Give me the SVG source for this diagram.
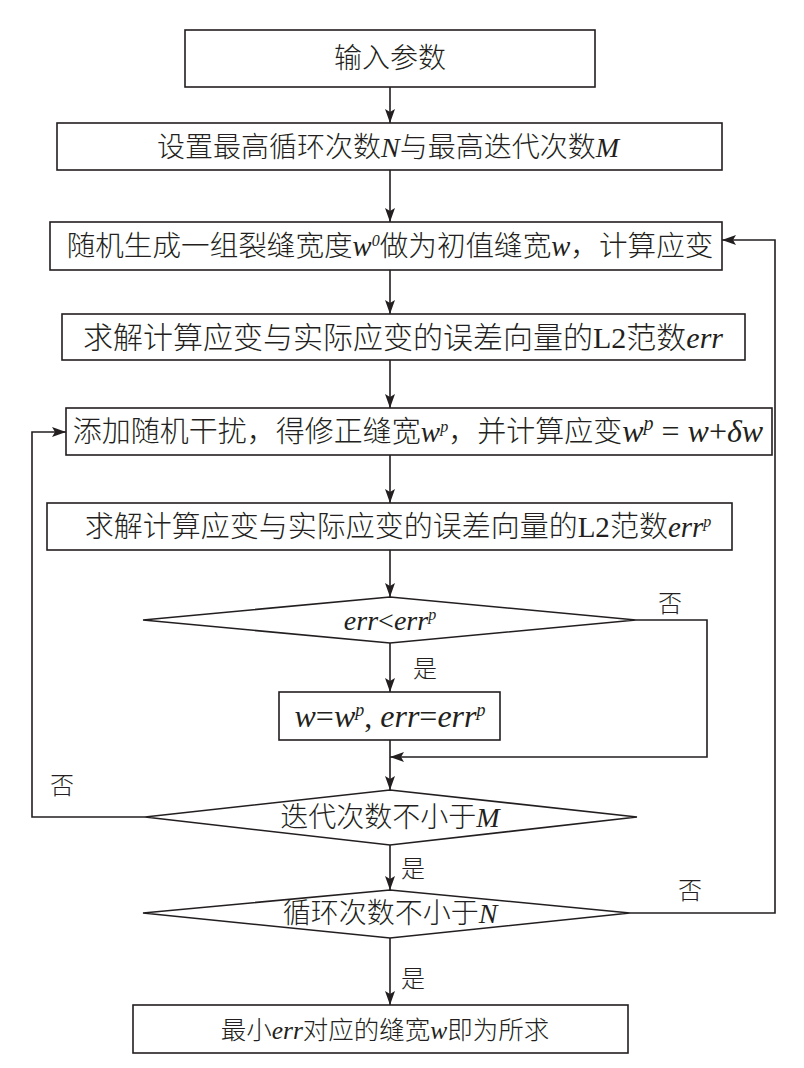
<svg xmlns="http://www.w3.org/2000/svg" width="804" height="1068" viewBox="0 0 804 1068">
<style>
.box{fill:#fff;stroke:#231f20;stroke-width:1.6}
.ln{fill:none;stroke:#231f20;stroke-width:1.6}
.t{font-family:"Noto Sans CJK SC",sans-serif;font-weight:300;font-size:28px;fill:#231f20;text-anchor:middle}
.i{font-family:"Liberation Serif",serif;font-style:italic}
.r{font-family:"Liberation Serif",serif}
.sup{font-size:16px}
.m{font-size:32px}
.lab{font-family:"Noto Sans CJK SC",sans-serif;font-weight:300;font-size:24px;fill:#231f20;text-anchor:middle}
</style>
<defs>
<marker id="a" viewBox="0 0 14 10" refX="14" refY="5" markerWidth="14" markerHeight="10" markerUnits="userSpaceOnUse" orient="auto"><path d="M0,0 L14,5 L0,10 L3,5 Z" fill="#231f20"/></marker>
</defs>
<rect width="804" height="1068" fill="#fff"/>
<g id="connectors">
<path class="ln" d="M390,87 V123" marker-end="url(#a)"/>
<path class="ln" d="M390,170 V222" marker-end="url(#a)"/>
<path class="ln" d="M390,270 V314" marker-end="url(#a)"/>
<path class="ln" d="M390,360 V408" marker-end="url(#a)"/>
<path class="ln" d="M390,455 V503" marker-end="url(#a)"/>
<path class="ln" d="M390,550 V597" marker-end="url(#a)"/>
<path class="ln" d="M390,643 V692" marker-end="url(#a)"/>
<path class="ln" d="M390,740 V790" marker-end="url(#a)"/>
<path class="ln" d="M636,620 H707 V757 H390" marker-end="url(#a)"/>
<path class="ln" d="M145,817 H32 V432 H66" marker-end="url(#a)"/>
<path class="ln" d="M390,845 V890" marker-end="url(#a)"/>
<path class="ln" d="M630,913 H775 V240 H722" marker-end="url(#a)"/>
<path class="ln" d="M390,938 V1005" marker-end="url(#a)"/>
<text class="lab" x="670" y="612">否</text>
<text class="lab" x="425" y="677">是</text>
<text class="lab" x="62" y="794">否</text>
<text class="lab" x="413" y="877">是</text>
<text class="lab" x="690" y="899">否</text>
<text class="lab" x="413" y="987">是</text>
</g>
<g id="n1"><rect class="box" x="185" y="30" width="410" height="57"/>
<text class="t" x="390" y="68">输入参数</text></g>
<g id="n2"><rect class="box" x="57" y="123" width="665" height="47"/>
<text class="t" x="388" y="157">设置最高循环次数<tspan class="i">N</tspan>与最高迭代次数<tspan class="i">M</tspan></text></g>
<g id="n3"><rect class="box" x="50" y="222" width="672" height="48"/>
<text class="t" x="390" y="256" style="font-size:28.6px">随机生成一组裂缝宽度<tspan class="i">w</tspan><tspan class="i sup" dy="-10">0</tspan><tspan dy="10">做为初值缝宽</tspan><tspan class="i">w</tspan>，计算应变</text></g>
<g id="n4"><rect class="box" x="62" y="314" width="683" height="46"/>
<text class="t" x="403" y="348" style="font-size:30px">求解计算应变与实际应变的误差向量的<tspan class="r">L2</tspan>范数<tspan class="i">err</tspan></text></g>
<g id="n5"><rect class="box" x="66" y="408" width="706" height="47"/>
<text class="t" x="418" y="442" style="font-size:29px">添加随机干扰，得修正缝宽<tspan class="i">w</tspan><tspan class="i sup" dy="-10">p</tspan><tspan dy="10">，并计算应变</tspan><tspan class="i m">w</tspan><tspan class="i sup" dy="-12" style="font-size:20px">p</tspan><tspan class="r m" dy="12"> = </tspan><tspan class="i m">w</tspan><tspan class="r m">+</tspan><tspan class="i m">δw</tspan></text></g>
<g id="n6"><rect class="box" x="47" y="503" width="685" height="47"/>
<text class="t" x="398" y="537" style="font-size:29px">求解计算应变与实际应变的误差向量的<tspan class="r">L2</tspan>范数<tspan class="i">err</tspan><tspan class="i sup" dy="-10">p</tspan></text></g>
<g id="d1"><polygon class="box" points="390,597 636,620 390,643 143,620"/>
<text class="t" x="390" y="630"><tspan class="i">err</tspan><tspan class="r">&lt;</tspan><tspan class="i">err</tspan><tspan class="i sup" dy="-10">p</tspan></text></g>
<g id="n7"><rect class="box" x="279" y="692" width="221" height="48"/>
<text class="t" x="390" y="727" style="font-size:32px"><tspan class="i">w</tspan><tspan class="r">=</tspan><tspan class="i">w</tspan><tspan class="i sup" dy="-11" style="font-size:18px">p</tspan><tspan class="r" dy="11">, </tspan><tspan class="i">err</tspan><tspan class="r">=</tspan><tspan class="i">err</tspan><tspan class="i sup" dy="-11" style="font-size:18px">p</tspan></text></g>
<g id="d2"><polygon class="box" points="390,790 637,817 390,845 145,817"/>
<text class="t" x="390" y="827">迭代次数不小于<tspan class="i">M</tspan></text></g>
<g id="d3"><polygon class="box" points="390,890 630,913 390,938 143,913"/>
<text class="t" x="390" y="923">循环次数不小于<tspan class="i">N</tspan></text></g>
<g id="n8"><rect class="box" x="133" y="1005" width="495" height="48"/>
<text class="t" x="385" y="1039" style="font-size:25.5px">最小<tspan class="i">err</tspan>对应的缝宽<tspan class="i">w</tspan>即为所求</text></g>
</svg>
